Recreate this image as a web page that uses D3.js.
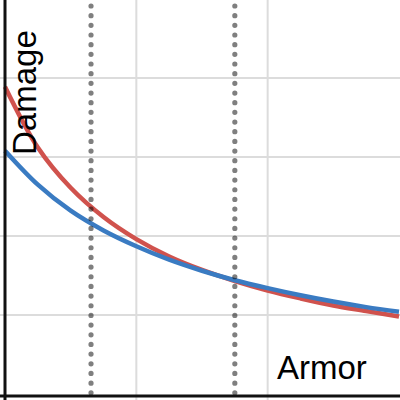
<!DOCTYPE html>
<html><head><meta charset="utf-8">
<script src="https://cdn.jsdelivr.net/npm/d3@7"></script>
<style>html,body{margin:0;padding:0;background:#fff;overflow:hidden}svg{display:block}</style>
</head><body>
<script>
const armor = [0, 0.25, 0.5, 0.75, 1, 1.25, 1.5, 1.75, 2, 2.25, 2.5, 2.75, 3];
const redDamage = [3.89, 3.12, 2.61, 2.24, 1.96, 1.74, 1.57, 1.43, 1.31, 1.21, 1.12, 1.05, 0.98];
const blueDamage = [3.08, 2.65, 2.32, 2.07, 1.87, 1.70, 1.56, 1.44, 1.34, 1.25, 1.17, 1.10, 1.04];
const markers = [0.655, 1.75];
const xTicks = [1, 2];
const yTicks = [1, 2, 3, 4];
const xLabel = "Armor";
const yLabel = "Damage";

const W = 400, H = 400;
const x = d3.scaleLinear().domain([0, 3]).range([5, 399]);
const y = d3.scaleLinear().domain([0, 5]).range([394, -1]);

const svg = d3.select("body").append("svg").attr("width", W).attr("height", H);

// grid
svg.append("g").selectAll("line").data(xTicks).join("line")
  .attr("x1", d => x(d)).attr("x2", d => x(d)).attr("y1", 0).attr("y2", H)
  .attr("stroke", "#dcdcdc").attr("stroke-width", 2);
svg.append("g").selectAll("line").data(yTicks).join("line")
  .attr("x1", 0).attr("x2", W).attr("y1", d => y(d)).attr("y2", d => y(d))
  .attr("stroke", "#dcdcdc").attr("stroke-width", 2);

const line = d3.line().x(d => x(d[0])).y(d => y(d[1])).curve(d3.curveCatmullRom);
svg.append("path").datum(armor.map((a, i) => [a, redDamage[i]]))
  .attr("d", line).attr("fill", "none").attr("stroke", "#d0524d").attr("stroke-width", 4.5);
svg.append("path").datum(armor.map((a, i) => [a, blueDamage[i]]))
  .attr("d", line).attr("fill", "none").attr("stroke", "#3a7bc2").attr("stroke-width", 4.5);

// dotted markers
svg.append("g").selectAll("line").data(markers).join("line")
  .attr("x1", d => x(d)).attr("x2", d => x(d)).attr("y1", 6).attr("y2", H)
  .attr("stroke", "#000").attr("stroke-opacity", 0.5).attr("stroke-width", 5.2)
  .attr("stroke-linecap", "round").attr("stroke-dasharray", "0 9.67");

// axes
svg.append("line").attr("x1", x(0)).attr("x2", x(0)).attr("y1", 0).attr("y2", H)
  .attr("stroke", "#111").attr("stroke-width", 3);
svg.append("line").attr("x1", 0).attr("x2", W).attr("y1", y(0) + 2).attr("y2", y(0) + 2)
  .attr("stroke", "#111").attr("stroke-width", 3);

// labels
svg.append("text").attr("transform", "translate(36,155) rotate(-90)")
  .attr("font-family", "Liberation Sans, Arial, sans-serif").attr("font-size", 33)
  .attr("fill", "#000").text(yLabel);
svg.append("text").attr("x", 277).attr("y", 379)
  .attr("font-family", "Liberation Sans, Arial, sans-serif").attr("font-size", 33)
  .attr("fill", "#000").text(xLabel);
</script>
</body></html>
